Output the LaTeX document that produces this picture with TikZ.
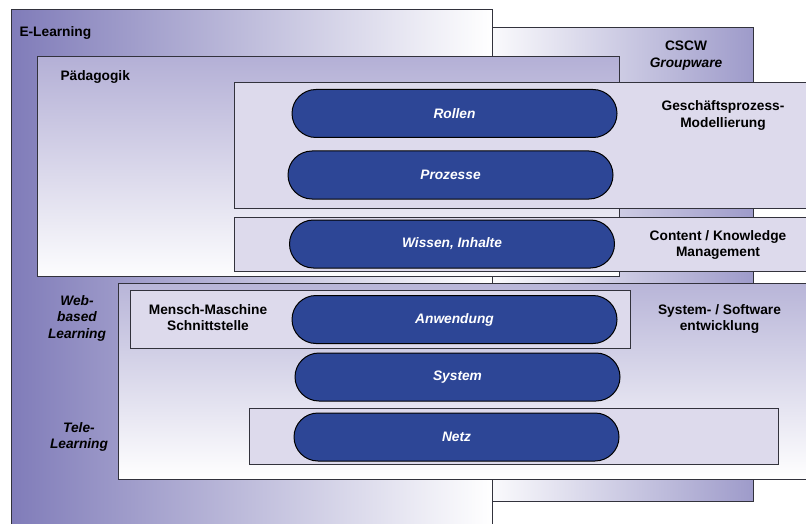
\documentclass[tikz,border=0pt]{standalone}
\usepackage{fontspec}
\setmainfont{Liberation Sans}

\definecolor{elearn}{RGB}{128,124,185}
\definecolor{cscw}{RGB}{158,155,202}
\definecolor{paed}{RGB}{180,176,214}
\definecolor{sysw}{RGB}{184,181,216}
\definecolor{layerfill}{RGB}{221,218,236}
\definecolor{pillblue}{RGB}{45,70,150}
\definecolor{framegray}{RGB}{50,50,60}

\tikzset{every picture/.style={line width=0.75pt}}
\tikzset{
  lbl/.style={font=\fontsize{10.3}{12.4}\selectfont\bfseries, align=center, inner sep=0.75pt},
  lbli/.style={lbl, font=\fontsize{10.3}{12.4}\selectfont\bfseries\itshape},
  layer/.style={draw=framegray, fill=layerfill},
  pill/.style={draw=black, fill=pillblue, rounded corners=18pt, minimum width=243.75pt,
    minimum height=36pt, inner sep=0pt, text=white,
    font=\fontsize{10.3}{12}\selectfont\bfseries\itshape}
}

\begin{document}
\begin{tikzpicture}[x=0.75pt,y=0.75pt,yscale=-1,xscale=1]
\useasboundingbox (0,0) rectangle (806,524);
\clip (0,0) rectangle (806,524);

%Shape: Rectangle [E-Learning]
\draw [draw=framegray, left color=elearn, right color=white] (11,10) rectangle (492,530);
%Shape: Rectangle [CSCW]
\draw [draw=framegray, left color=white!95!cscw, right color=cscw] (492,28) rectangle (753,501);
%Shape: Rectangle [Paedagogik]
\draw [draw=framegray, top color=paed, bottom color=white!97!paed] (37,57) rectangle (619,276);
%Shape: Rectangle [Geschaeftsprozess]
\draw [layer] (234,83) rectangle (812,208);
%Shape: Rectangle [Content]
\draw [layer] (234,217) rectangle (812,271);
%Shape: Rectangle [System / Software]
\draw [draw=framegray, top color=sysw, bottom color=white] (118,283) rectangle (812,479);
%Shape: Rectangle [Mensch-Maschine]
\draw [layer] (130,290) rectangle (630,348);
%Shape: Rectangle [Netz]
\draw [layer] (249,408) rectangle (778,464);

% Pills
\node [pill] (rollen) at (454.5,113.5) {Rollen};
\node [pill] (prozesse) at (450.5,175) {Prozesse};
\node [pill] (wissen) at (452,244) {Wissen, Inhalte};
\node [pill] (anwendung) at (454.5,319.5) {Anwendung};
\node [pill] (system) at (457.5,377) {System};
\node [pill] (netz) at (456.5,437) {Netz};

% Text Node
\node [lbl, anchor=west] (elearning) at (18,33) {E-Learning};
% Text Node
\node [lbl, anchor=west] (paedagogik) at (59,77) {Pädagogik};
% Text Node
\node [lbl] (cscwlbl) at (686,55.5) {CSCW\\\itshape Groupware};
% Text Node
\node [lbl] (gpm) at (723,115.5) {Geschäftsprozess-\\Modellierung};
% Text Node
\node [lbl] (ckm) at (718,245) {Content / Knowledge\\Management};
% Text Node
\node [lbli] (wbl) at (77,318) {Web-\\based\\Learning};
% Text Node
\node [lbl] (mms) at (208,317.5) {Mensch-Maschine\\Schnittstelle};
% Text Node
\node [lbl] (sse) at (719.5,319) {System- / Software\\entwicklung};
% Text Node
\node [lbli] (tele) at (79,437) {Tele-\\Learning};

\end{tikzpicture}
\end{document}
